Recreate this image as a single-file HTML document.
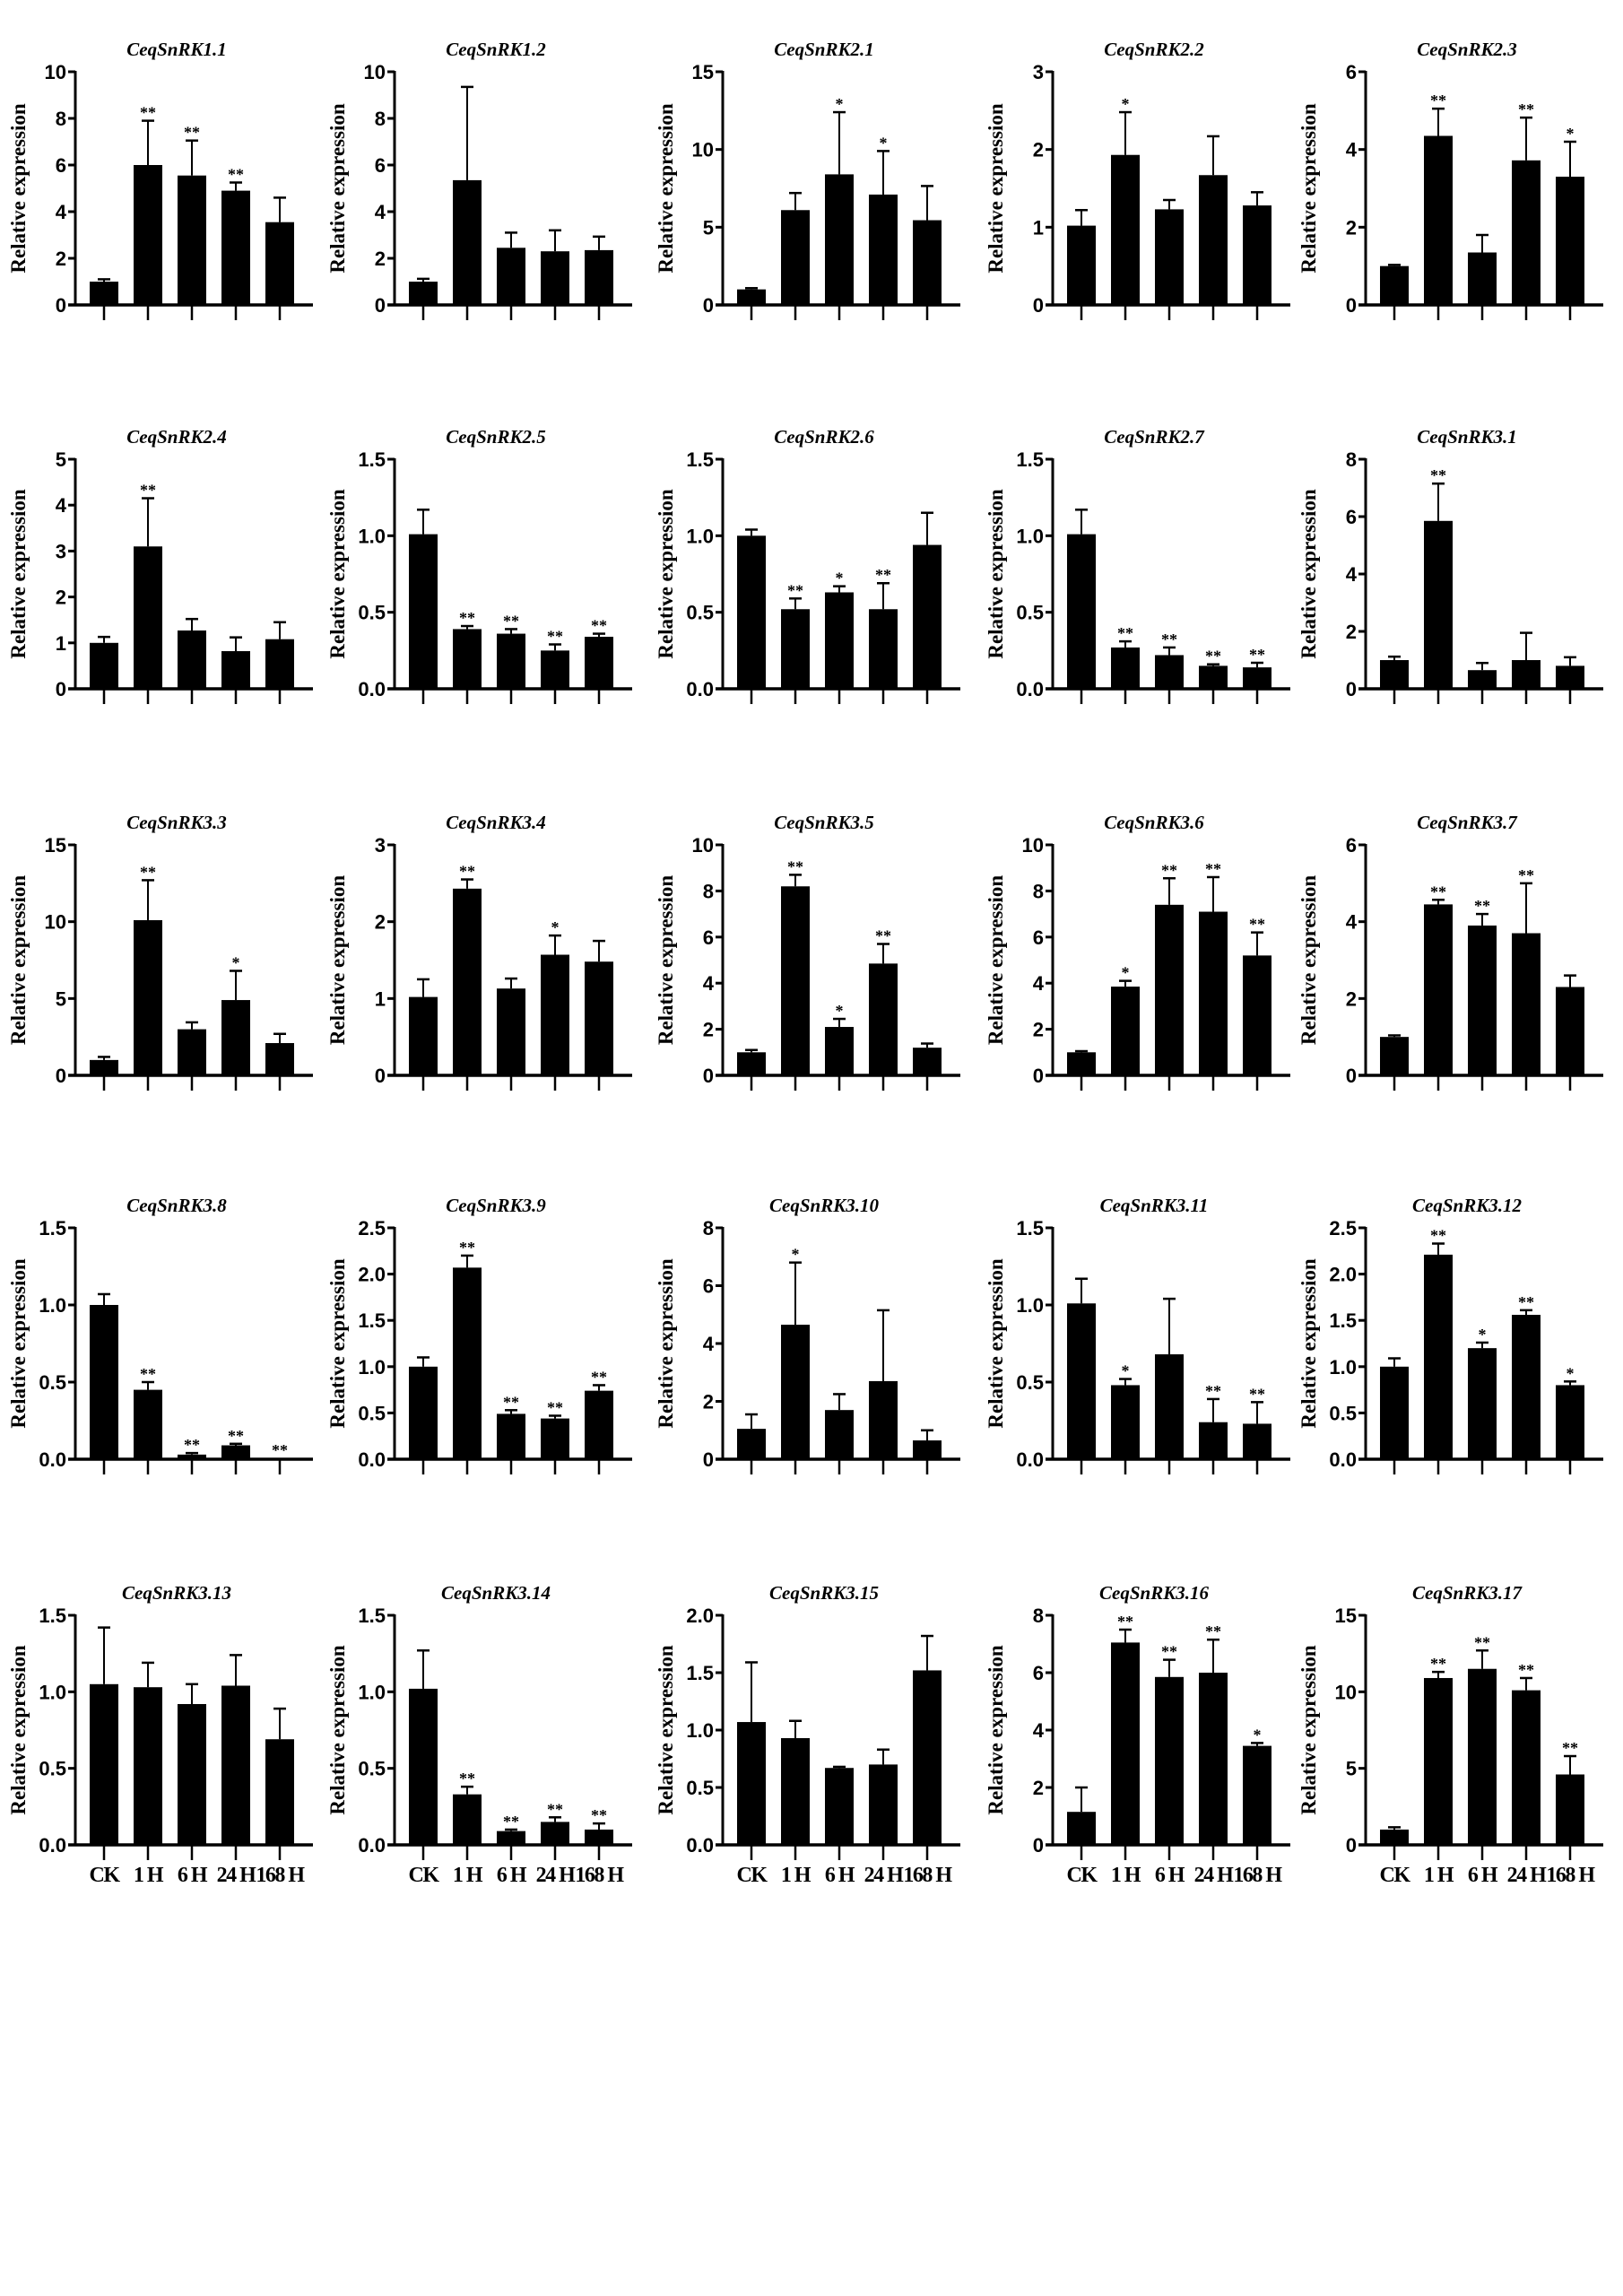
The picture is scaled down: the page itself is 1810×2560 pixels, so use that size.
<!DOCTYPE html>
<html><head><meta charset="utf-8">
<style>
html,body{margin:0;padding:0;background:#fff;}
svg{display:block;}
</style></head>
<body>
<svg id="s" width="1810" height="2560" xmlns="http://www.w3.org/2000/svg"></svg>
<script>
const NS="http://www.w3.org/2000/svg";
const svg=document.getElementById('s');
function el(t,a,txt){const e=document.createElementNS(NS,t);for(const k in a)e.setAttribute(k,a[k]);if(txt!==undefined)e.textContent=txt;svg.appendChild(e);return e;}
const colX=[84,440,806,1174,1523];
const rows=[{top:80,zero:340},{top:512,zero:768},{top:942,zero:1199},{top:1369,zero:1627},{top:1801,zero:2057}];
const T={10:[0,2,4,6,8,10],15:[0,5,10,15],3:[0,1,2,3],6:[0,2,4,6],5:[0,1,2,3,4,5],1.5:['0.0','0.5','1.0','1.5'],8:[0,2,4,6,8],2.5:['0.0','0.5','1.0','1.5','2.0','2.5'],2:['0.0','0.5','1.0','1.5','2.0']};
const P=[
["CeqSnRK1.1",10,[[1,.1],[6,1.9,'**'],[5.55,1.5,'**'],[4.9,.35,'**'],[3.55,1.05]]],
["CeqSnRK1.2",10,[[1,.12],[5.35,4.0],[2.45,.65],[2.3,.9],[2.35,.58]]],
["CeqSnRK2.1",15,[[1,.08],[6.1,1.1],[8.4,4.0,'*'],[7.1,2.8,'*'],[5.45,2.2]]],
["CeqSnRK2.2",3,[[1.02,.2],[1.93,.55,'*'],[1.23,.12],[1.67,.5],[1.28,.17]]],
["CeqSnRK2.3",6,[[1,.03],[4.35,.7,'**'],[1.35,.45],[3.72,1.1,'**'],[3.3,.9,'*']]],
["CeqSnRK2.4",5,[[1,.13],[3.1,1.05,'**'],[1.27,.25],[.82,.3],[1.08,.37]]],
["CeqSnRK2.5",1.5,[[1.01,.16],[.39,.02,'**'],[.36,.03,'**'],[.25,.04,'**'],[.34,.02,'**']]],
["CeqSnRK2.6",1.5,[[1,.04],[.52,.07,'**'],[.63,.04,'*'],[.52,.17,'**'],[.94,.21]]],
["CeqSnRK2.7",1.5,[[1.01,.16],[.27,.04,'**'],[.22,.05,'**'],[.15,.01,'**'],[.14,.03,'**']]],
["CeqSnRK3.1",8,[[1,.12],[5.85,1.3,'**'],[.65,.25],[1,.95],[.8,.3]]],
["CeqSnRK3.3",15,[[1,.2],[10.1,2.6,'**'],[3,.45],[4.9,1.9,'*'],[2.1,.6]]],
["CeqSnRK3.4",3,[[1.02,.23],[2.43,.12,'**'],[1.13,.13],[1.57,.25,'*'],[1.48,.27]]],
["CeqSnRK3.5",10,[[1,.1],[8.2,.5,'**'],[2.1,.35,'*'],[4.85,.85,'**'],[1.2,.18]]],
["CeqSnRK3.6",10,[[1,.05],[3.85,.25,'*'],[7.4,1.15,'**'],[7.1,1.5,'**'],[5.2,1.0,'**']]],
["CeqSnRK3.7",6,[[1,.04],[4.45,.12,'**'],[3.9,.3,'**'],[3.7,1.3,'**'],[2.3,.3]]],
["CeqSnRK3.8",1.5,[[1,.07],[.45,.05,'**'],[.03,.01,'**'],[.09,.01,'**'],[.005,0,'**']]],
["CeqSnRK3.9",2.5,[[1,.1],[2.07,.13,'**'],[.49,.04,'**'],[.44,.03,'**'],[.74,.06,'**']]],
["CeqSnRK3.10",8,[[1.05,.5],[4.65,2.15,'*'],[1.7,.55],[2.7,2.45],[.65,.35]]],
["CeqSnRK3.11",1.5,[[1.01,.16],[.48,.04,'*'],[.68,.36],[.24,.15,'**'],[.23,.14,'**']]],
["CeqSnRK3.12",2.5,[[1,.09],[2.21,.12,'**'],[1.2,.06,'*'],[1.56,.05,'**'],[.8,.04,'*']]],
["CeqSnRK3.13",1.5,[[1.05,.37],[1.03,.16],[.92,.13],[1.04,.2],[.69,.2]]],
["CeqSnRK3.14",1.5,[[1.02,.25],[.33,.05,'**'],[.09,.01,'**'],[.15,.03,'**'],[.1,.04,'**']]],
["CeqSnRK3.15",2,[[1.07,.52],[.93,.15],[.67,.01],[.7,.13],[1.52,.3]]],
["CeqSnRK3.16",8,[[1.15,.85],[7.05,.45,'**'],[5.85,.6,'**'],[6,1.15,'**'],[3.45,.1,'*']]],
["CeqSnRK3.17",15,[[1,.15],[10.9,.4,'**'],[11.5,1.2,'**'],[10.1,.8,'**'],[4.6,1.2,'**']]]
];
const cats=["CK","1 H","6 H","24 H","168 H"];
P.forEach((p,i)=>{
  const r=Math.floor(i/5),c=i%5;
  const ax=colX[c],top=rows[r].top,zero=rows[r].zero,max=p[1];
  const sc=(zero-top)/max;
  el('text',{x:ax+113,y:top-18,'text-anchor':'middle','font-family':'Liberation Serif,serif','font-style':'italic','font-weight':'bold','font-size':21},p[0]);
  const my=(top+zero)/2;
  el('text',{x:0,y:0,transform:`translate(${ax-56},${my}) rotate(-90)`,'text-anchor':'middle','font-family':'Liberation Serif,serif','font-weight':'bold','font-size':23},'Relative expression');
  el('line',{x1:ax,y1:top-1,x2:ax,y2:zero+1.5,stroke:'#000','stroke-width':3});
  el('line',{x1:ax-8,y1:zero,x2:ax+265,y2:zero,stroke:'#000','stroke-width':3.5});
  T[max].forEach(t=>{
    const v=parseFloat(t),y=zero-v*sc;
    el('line',{x1:ax-8,y1:y,x2:ax,y2:y,stroke:'#000','stroke-width':3});
    el('text',{x:ax-10,y:y+8,'text-anchor':'end','font-family':'Liberation Sans,sans-serif','font-weight':'bold','font-size':22},String(t));
  });
  p[2].forEach((d,j)=>{
    const cx=ax+32+49*j;
    const h=d[0]*sc, yt=zero-h, ye=zero-(d[0]+d[1])*sc;
    el('line',{x1:cx,y1:zero,x2:cx,y2:zero+17,stroke:'#000','stroke-width':2.5});
    if(d[1]>0){
      el('line',{x1:cx,y1:yt,x2:cx,y2:ye,stroke:'#000','stroke-width':2});
      el('line',{x1:cx-7,y1:ye,x2:cx+7,y2:ye,stroke:'#000','stroke-width':2.5});
    }
    el('rect',{x:cx-16,y:yt,width:32,height:h,fill:'#000'});
    if(d[2]) el('text',{x:cx,y:ye-3,'text-anchor':'middle','font-family':'Liberation Serif,serif','font-weight':'bold','font-size':18},d[2]);
    if(r===4) el('text',{x:cx,y:zero+41,'text-anchor':'middle','font-family':'Liberation Serif,serif','font-weight':'bold','font-size':24,'letter-spacing':'-1.5'},cats[j]);
  });
});
</script>
</body></html>
